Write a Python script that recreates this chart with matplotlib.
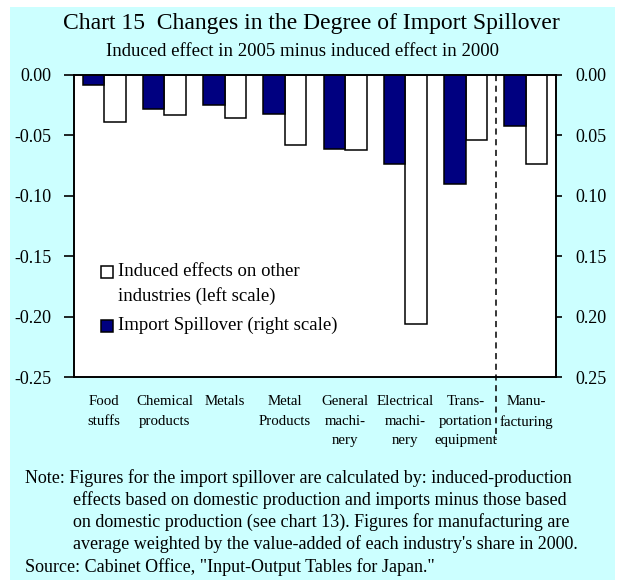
import matplotlib.pyplot as plt
import numpy as np
from matplotlib.patches import Rectangle
from matplotlib.ticker import FuncFormatter

# data
categories = ['Food\nstuffs', 'Chemical\nproducts', 'Metals', 'Metal\nProducts',
              'General\nmachi-\nnery', 'Electrical\nmachi-\nnery',
              'Trans-\nportation\nequipment', 'Manu-\nfacturing']
induced_other = [-0.039, -0.033, -0.036, -0.058, -0.062, -0.206, -0.054, -0.074]  # left scale
import_spill = [-0.008, -0.028, -0.025, -0.032, -0.061, -0.074, -0.090, -0.042]   # right scale
yticks = [0.00, -0.05, -0.10, -0.15, -0.20, -0.25]
navy = '#000080'

plt.rcParams['font.family'] = ['Liberation Serif', 'DejaVu Serif']

fig = plt.figure(figsize=(6.22, 5.80), dpi=100, facecolor='white')
# light cyan panel behind everything
fig.patches.append(Rectangle((10 / 622, 0), 605 / 622, 573 / 580, transform=fig.transFigure,
                             facecolor='#CCFFFF', edgecolor='none', zorder=-10))

ax = fig.add_axes([0.119, 0.35, 0.775, 0.5207])
ax.set_facecolor('white')
x = np.arange(len(categories))
w = 0.356

ax.bar(x + w / 2, induced_other, w, color='white', edgecolor='black', linewidth=1.1)
ax.set_ylim(-0.25, 0)
ax.set_xlim(-0.5, len(categories) - 0.5)
ax.set_yticks(yticks)
ax.yaxis.set_major_formatter(FuncFormatter(lambda v, p: '%.2f' % v if v < -1e-9 else '0.00'))
ax.tick_params(axis='y', direction='out', length=7, width=1.2, labelsize=13, pad=9)
ax.set_xticks(x)
ax.set_xticklabels(categories, fontsize=10.7, linespacing=1.65, va='top')
ax.tick_params(axis='x', length=0, pad=13)

ax2 = ax.twinx()
ax2.bar(x - w / 2, import_spill, w, color=navy, edgecolor='black', linewidth=1.1)
ax2.set_ylim(-0.25, 0)
ax2.set_yticks(yticks)
ax2.yaxis.set_major_formatter(FuncFormatter(lambda v, p: '%.2f' % abs(v)))
ax2.tick_params(axis='y', direction='out', length=4, width=1.2, labelsize=13, pad=10)

for a in (ax, ax2):
    for s in a.spines.values():
        s.set_linewidth(1.2)

# separator before manufacturing
ax.plot([6.5, 6.5], [1, -0.21], transform=ax.get_xaxis_transform(), color='black',
        linestyle=(0, (4, 3)), linewidth=1.1, clip_on=False, zorder=5)

# legend, drawn by hand so the square sits on the first text line
leg_font = 13.5
for yc, fc in [(0.348, 'white'), (0.170, navy)]:
    ax2.add_patch(Rectangle((0.055, yc - 0.02), 0.025, 0.04, transform=ax2.transAxes,
                            facecolor=fc, edgecolor='black', linewidth=1.1, zorder=6))
ax2.text(0.091, 0.348, 'Induced effects on other', transform=ax2.transAxes,
         va='center', ha='left', fontsize=leg_font)
ax2.text(0.091, 0.268, 'industries (left scale)', transform=ax2.transAxes,
         va='center', ha='left', fontsize=leg_font)
ax2.text(0.091, 0.170, 'Import Spillover (right scale)', transform=ax2.transAxes,
         va='center', ha='left', fontsize=leg_font)

fig.text(0.5, 1 - 23 / 580, 'Chart 15  Changes in the Degree of Import Spillover',
         ha='center', va='center', fontsize=17)
fig.text(0.487, 1 - 52 / 580, 'Induced effect in 2005 minus induced effect in 2000',
         ha='center', va='center', fontsize=13.5)

notes = ['Note: Figures for the import spillover are calculated by: induced-production',
         'effects based on domestic production and imports minus those based',
         'on domestic production (see chart 13). Figures for manufacturing are',
         "average weighted by the value-added of each industry's share in 2000."]
note_font = 13
for i, line in enumerate(notes):
    fig.text((25 if i == 0 else 73) / 622, 1 - (478 + 22 * i) / 580, line,
             ha='left', va='center', fontsize=note_font)
fig.text(25 / 622, 1 - 567 / 580, 'Source: Cabinet Office, "Input-Output Tables for Japan."',
         ha='left', va='center', fontsize=note_font)

fig.savefig('out.png', dpi=100, facecolor=fig.get_facecolor())
